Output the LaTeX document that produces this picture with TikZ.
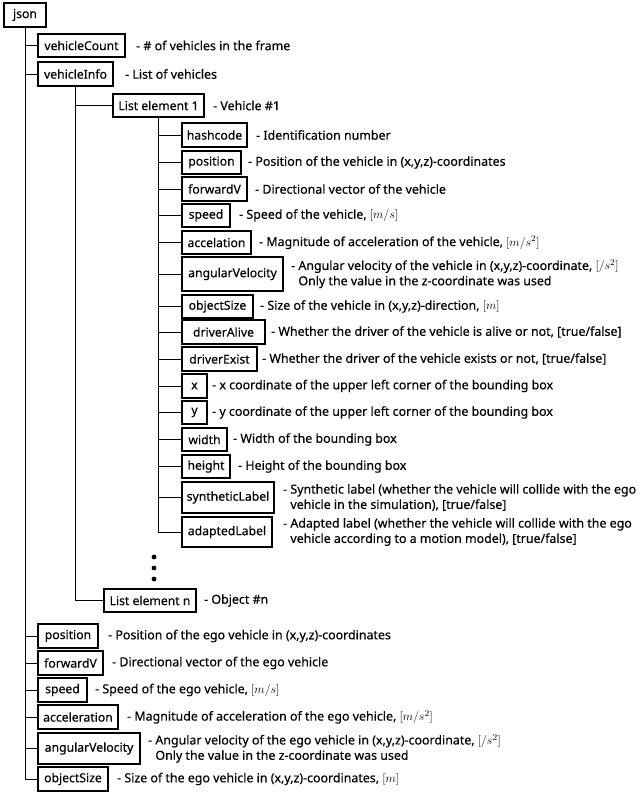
\documentclass[tikz,border=0pt]{standalone}
\usepackage{fontspec}
\setmainfont{Noto Sans}[FakeBold=0.3]
\begin{document}
\begin{tikzpicture}[x=1pt,y=-1pt,
  box/.style={draw, line width=1.1pt, inner sep=0pt, font=\fontsize{12.2}{14}\selectfont},
  lbl/.style={anchor=west, align=left, inner sep=0pt, font=\fontsize{12.4}{15.3}\selectfont},
  conn/.style={line width=0.8pt}]
\useasboundingbox[fill=white] (0,0) rectangle (640,794);
% field macro: name, cx, cy, w, h, text, label-x, label
\newcommand\fld[8]{%
  \node[box, minimum width=#4pt, minimum height=#5pt] (#1) at (#2,#3) {#6};
  \node[lbl] (#1-l) at (#7,#3) {#8};}
\node[box, minimum width=42pt, minimum height=24pt] (json) at (25,15) {json};
\fld{vc}{81.5}{45.5}{87}{23}{vehicleCount}{136}{- \# of vehicles in the frame}
\fld{vi}{75.5}{74}{75}{24}{vehicleInfo}{125}{- List of vehicles}
\fld{le1}{158.5}{105.5}{91}{23}{List element 1}{213}{- Vehicle \#1}
\fld{hc}{214.5}{135}{65}{24}{hashcode}{256}{- Identification number}
\fld{pos}{211.5}{162.5}{59}{23}{position}{248}{- Position of the vehicle in (x,y,z)-coordinates}
\fld{fw}{214.5}{189}{65}{24}{forwardV}{255}{- Directional vector of the vehicle}
\fld{sp}{206}{215.5}{48}{23}{speed}{239}{- Speed of the vehicle, $[m/s]$}
\fld{ac}{216.5}{242.5}{69}{23}{accelation}{259}{- Magnitude of acceleration of the vehicle, $[m/s^2]$}
\fld{av}{232.5}{274}{101}{34}{angularVelocity}{291}{- Angular velocity of the vehicle in (x,y,z)-coordinate, $[/s^2]$\\\phantom{- }Only the value in the z-coordinate was used}
\fld{os}{217.5}{306.5}{71}{23}{objectSize}{260}{- Size of the vehicle in (x,y,z)-direction, $[m]$}
\fld{da}{223.5}{332}{83}{24}{driverAlive}{271}{- Whether the driver of the vehicle is alive or not, [true/false]}
\fld{de}{219.5}{359}{75}{24}{driverExist}{262}{- Whether the driver of the vehicle exists or not, [true/false]}
\fld{bx}{194.5}{386}{25}{24}{x}{212}{- x coordinate of the upper left corner of the bounding box}
\fld{by}{194.5}{412.5}{25}{23}{y}{212}{- y coordinate of the upper left corner of the bounding box}
\fld{wd}{204.5}{439.5}{45}{23}{width}{233}{- Width of the bounding box}
\fld{ht}{206}{466.5}{48}{23}{height}{238}{- Height of the bounding box}
\fld{sl}{228}{497.5}{92}{31}{syntheticLabel}{283}{- Synthetic label (whether the vehicle will collide with the ego\\\phantom{- }vehicle in the simulation), [true/false]}
\fld{al}{227}{532}{90}{30}{adaptedLabel}{283}{- Adapted label (whether the vehicle will collide with the ego\\\phantom{- }vehicle according to a motion model), [true/false]}
\fld{len}{150}{600.5}{92}{23}{List element n}{204}{- Object \#n}
\fld{epos}{68}{636}{60}{24}{position}{108}{- Position of the ego vehicle in (x,y,z)-coordinates}
\fld{efw}{70.5}{663}{65}{24}{forwardV}{112}{- Directional vector of the ego vehicle}
\fld{esp}{62.5}{690}{49}{24}{speed}{95}{- Speed of the ego vehicle, $[m/s]$}
\fld{eac}{78}{717}{80}{24}{acceleration}{127}{- Magnitude of acceleration of the ego vehicle, $[m/s^2]$}
\fld{eav}{89}{748.5}{102}{31}{angularVelocity}{148}{- Angular velocity of the ego vehicle in (x,y,z)-coordinate, $[/s^2]$\\\phantom{- }Only the value in the z-coordinate was used}
\fld{eos}{73}{779}{70}{24}{objectSize}{117}{- Size of the ego vehicle in (x,y,z)-coordinates, $[m]$}
% connectors
\foreach \c in {vc,vi,epos,efw,esp,eac,eav,eos} \draw[conn] (json.south) |- (\c.west);
\foreach \c in {le1,len} \draw[conn] (vi.south) |- (\c.west);
\foreach \c in {hc,pos,fw,sp,ac,av,os,da,de,bx,by,wd,ht,sl,al} \draw[conn] (le1.south) |- (\c.west);
% dots
\foreach \yy/\n in {557/d1,568/d2,579/d3} \fill (154,\yy) circle (2.4pt) coordinate (\n);
\end{tikzpicture}
\end{document}
